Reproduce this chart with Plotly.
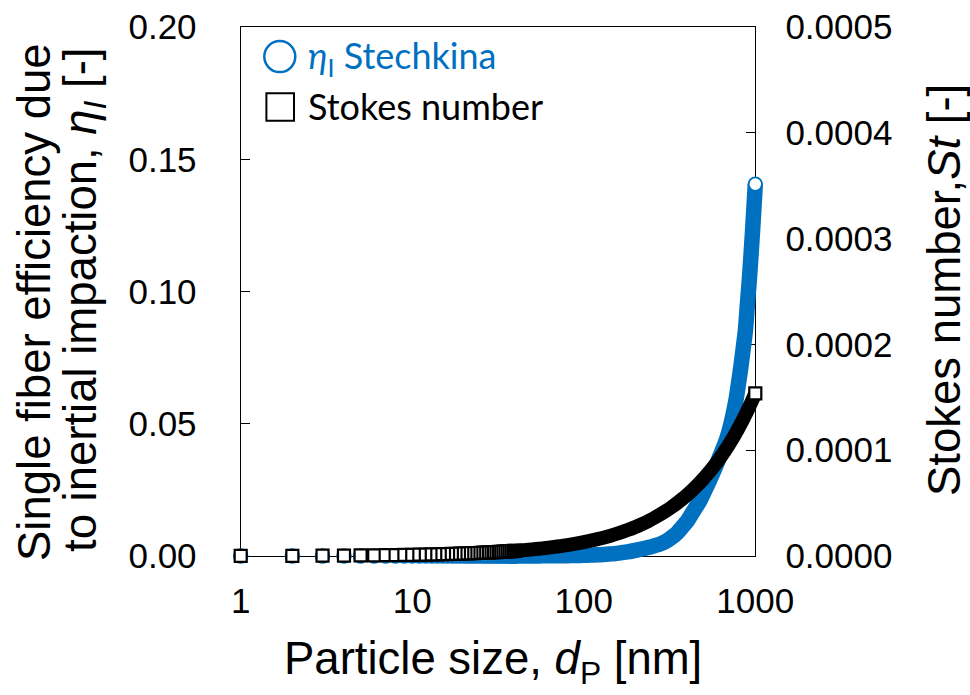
import plotly.graph_objects as go

# ---------------------------------------------------------------- data
particle_size_nm = [
    1, 2, 3, 4, 5, 6, 7, 8, 9, 10,
    11, 12, 13, 14, 15, 16, 17, 18, 19, 20,
    21, 22, 23, 24, 25, 26, 27, 28, 29, 30,
    31, 32, 33, 34, 35, 36, 37, 38, 39, 40,
    42, 45, 50, 55, 60, 65, 70, 75, 80, 90,
    100, 110, 120, 130, 140, 150, 160, 180, 200, 220,
    240, 260, 280, 300, 325, 350, 375, 400, 425, 450,
    475, 500, 525, 550, 575, 600, 625, 650, 675, 700,
    725, 750, 775, 800, 825, 850, 875, 900, 925, 950,
    975, 1000,
]

# single fiber efficiency due to inertial impaction (Stechkina), left axis
eta_impaction = [
    2.6e-10, 2.1e-9, 7.1e-9, 1.7e-8, 3.3e-8, 5.7e-8, 9.0e-8, 1.3e-7, 1.9e-7, 2.6e-7,
    3.5e-7, 4.5e-7, 5.8e-7, 7.2e-7, 8.9e-7, 1.1e-6, 1.3e-6, 1.5e-6, 1.8e-6, 2.1e-6,
    2.4e-6, 2.8e-6, 3.2e-6, 3.6e-6, 4.1e-6, 4.6e-6, 5.2e-6, 5.8e-6, 6.4e-6, 7.1e-6,
    7.8e-6, 8.6e-6, 9.4e-6, 1.03e-5, 1.13e-5, 1.22e-5, 1.33e-5, 1.44e-5, 1.56e-5, 1.68e-5,
    1.94e-5, 2.39e-5, 3.28e-5, 4.37e-5, 5.67e-5, 7.21e-5, 9.00e-5, 1.11e-4, 1.34e-4, 1.91e-4,
    2.63e-4, 3.49e-4, 4.54e-4, 5.77e-4, 7.20e-4, 8.86e-4, 1.075e-3, 1.531e-3, 2.10e-3, 2.71e-3,
    3.29e-3, 3.94e-3, 4.58e-3, 5.49e-3, 6.98e-3, 8.73e-3, 1.098e-2, 1.310e-2, 1.580e-2, 1.842e-2,
    2.087e-2, 2.386e-2, 2.679e-2, 2.964e-2, 3.240e-2, 3.534e-2, 3.809e-2, 4.073e-2, 4.345e-2, 4.671e-2,
    5.051e-2, 5.486e-2, 5.971e-2, 6.570e-2, 7.176e-2, 7.841e-2, 8.507e-2, 9.539e-2, 0.10522, 0.11646,
    0.12824, 0.1406,
]

# Stokes number, right axis
stokes_number = [
    9.5e-8, 1.99e-7, 3.07e-7, 4.18e-7, 5.31e-7, 6.45e-7, 7.61e-7, 8.78e-7, 9.95e-7, 1.11e-6,
    1.23e-6, 1.35e-6, 1.48e-6, 1.60e-6, 1.72e-6, 1.84e-6, 1.97e-6, 2.09e-6, 2.21e-6, 2.34e-6,
    2.46e-6, 2.59e-6, 2.72e-6, 2.84e-6, 2.97e-6, 3.10e-6, 3.22e-6, 3.35e-6, 3.48e-6, 3.61e-6,
    3.74e-6, 3.87e-6, 4.00e-6, 4.13e-6, 4.26e-6, 4.39e-6, 4.52e-6, 4.65e-6, 4.78e-6, 4.91e-6,
    5.17e-6, 5.57e-6, 6.24e-6, 6.90e-6, 7.58e-6, 8.26e-6, 8.94e-6, 9.62e-6, 1.031e-5, 1.169e-5,
    1.309e-5, 1.450e-5, 1.591e-5, 1.733e-5, 1.877e-5, 2.020e-5, 2.165e-5, 2.455e-5, 2.748e-5, 3.043e-5,
    3.341e-5, 3.639e-5, 3.940e-5, 4.242e-5, 4.620e-5, 5.002e-5, 5.385e-5, 5.770e-5, 6.157e-5, 6.544e-5,
    6.934e-5, 7.327e-5, 7.720e-5, 8.114e-5, 8.508e-5, 8.904e-5, 9.302e-5, 9.700e-5, 1.0099e-4, 1.0500e-4,
    1.0902e-4, 1.1304e-4, 1.1708e-4, 1.2111e-4, 1.2517e-4, 1.2924e-4, 1.3331e-4, 1.3739e-4, 1.4150e-4, 1.4559e-4,
    1.4969e-4, 1.538e-4,
]

size_ticks = [1, 10, 100, 1000]
size_tick_labels = ["1", "10", "100", "1000"]
eta_ticks = [0.0, 0.05, 0.10, 0.15, 0.20]
eta_tick_labels = ["0.00", "0.05", "0.10", "0.15", "0.20"]
stokes_ticks = [0.0, 0.0001, 0.0002, 0.0003, 0.0004, 0.0005]
stokes_tick_labels = ["0.0000", "0.0001", "0.0002", "0.0003", "0.0004", "0.0005"]

# ---------------------------------------------------------------- styling
BLUE = "#0070C0"
BLACK = "#000000"
AXIS_FONT = "Liberation Sans"
LEGEND_FONT = "Lato"
TICK_SIZE = 35
TITLE_SIZE = 45.5

W, H = 970, 695
# outer drawing area (marks may spill past the frame) and the framed box, px
PL, PR, PT, PB = 215, 780, 10, 585
FL, FR, FT, FB = 240.7, 755.3, 27.0, 556.0
ETA_MAX, ST_MAX = 0.20, 0.0005
DECADES = 3.0


def px_x(px):
    return (px - PL) / (PR - PL)


def px_y(py):
    return (PB - py) / (PB - PT)


dec_px = (FR - FL) / DECADES
x2_range = [-(FL - PL) / dec_px, DECADES + (PR - FR) / dec_px]
eta_per_px = ETA_MAX / (FB - FT)
y3_range = [-(PB - FB) * eta_per_px, ETA_MAX + (FT - PT) * eta_per_px]
y4_range = [v * ST_MAX / ETA_MAX for v in y3_range]

# small sizes show individual markers; from BAND_FROM on they merge into a band
MARKED_UPTO = 40
BAND_FROM = 36
small = [i for i, d in enumerate(particle_size_nm) if d <= MARKED_UPTO]
band = [i for i, d in enumerate(particle_size_nm) if d >= BAND_FROM]
last = [len(particle_size_nm) - 1]


def pick(seq, idx):
    return [seq[i] for i in idx]


circle_marker = dict(symbol="circle", size=13.5, color="white",
                     line=dict(color=BLUE, width=1.9))
square_marker = dict(symbol="square", size=12, color="white",
                     line=dict(color=BLACK, width=2.2))

fig = go.Figure()

# empty traces so the framed axes (ticks, labels, box) are laid out
fig.add_trace(go.Scatter(x=[], y=[], xaxis="x", yaxis="y", showlegend=False,
                         hoverinfo="skip"))
fig.add_trace(go.Scatter(x=[], y=[], xaxis="x", yaxis="y2", showlegend=False,
                         hoverinfo="skip"))


def add(idx, values, yaxis, **kw):
    fig.add_trace(go.Scatter(
        x=pick(particle_size_nm, idx), y=pick(values, idx),
        xaxis="x2", yaxis=yaxis, showlegend=False, cliponaxis=False,
        hoverinfo="skip", **kw))


band_line = dict(shape="spline", smoothing=0.8)

# eta_I (Stechkina) series
add(small, eta_impaction, "y3", mode="markers", marker=circle_marker)
add(band, eta_impaction, "y3", mode="lines",
    line=dict(color=BLUE, width=15.5, **band_line))
add(last, eta_impaction, "y3", mode="markers", marker=circle_marker)
# Stokes number series (secondary axis, drawn on top)
add(small, stokes_number, "y4", mode="markers", marker=square_marker)
add(band, stokes_number, "y4", mode="lines",
    line=dict(color=BLACK, width=14, **band_line))
add(last, stokes_number, "y4", mode="markers", marker=square_marker)

tick_font = dict(family=AXIS_FONT, size=TICK_SIZE, color=BLACK)
frame = dict(showline=True, linecolor=BLACK, linewidth=1.2, showgrid=False,
             zeroline=False, automargin=False, fixedrange=True)

fig.update_layout(
    width=W, height=H,
    margin=dict(l=PL, r=W - PR, t=PT, b=H - PB, pad=0, autoexpand=False),
    paper_bgcolor="white", plot_bgcolor="rgba(0,0,0,0)",
    showlegend=False,
    xaxis=dict(type="log", range=[0, DECADES], domain=[px_x(FL), px_x(FR)],
               anchor="y", mirror=True, ticks="", tickvals=size_ticks,
               ticktext=size_tick_labels, tickfont=tick_font,
               ticklabelstandoff=14, **frame),
    yaxis=dict(range=[0, ETA_MAX], domain=[px_y(FB), px_y(FT)], anchor="x",
               ticks="inside", ticklen=9, tickwidth=1.2, tickcolor=BLACK,
               tickvals=eta_ticks, ticktext=eta_tick_labels, tickfont=tick_font,
               ticklabelstandoff=36, **frame),
    yaxis2=dict(range=[0, ST_MAX], overlaying="y", anchor="x", side="right",
                ticks="inside", ticklen=9, tickwidth=1.2, tickcolor=BLACK,
                tickvals=stokes_ticks, ticktext=stokes_tick_labels,
                tickfont=tick_font, ticklabelstandoff=22, **frame),
    xaxis2=dict(type="log", range=x2_range, domain=[0, 1], anchor="y3",
                visible=False, fixedrange=True),
    yaxis3=dict(range=y3_range, domain=[0, 1], anchor="x2", visible=False,
                fixedrange=True),
    yaxis4=dict(range=y4_range, overlaying="y3", anchor="x2", visible=False,
                fixedrange=True),
)

title_font = dict(family=AXIS_FONT, size=TITLE_SIZE, color=BLACK)


def note(text, x, y, font, angle=0, xanchor="center"):
    fig.add_annotation(text=text, x=px_x(x), y=px_y(y), xref="paper",
                       yref="paper", showarrow=False, textangle=angle,
                       xanchor=xanchor, yanchor="middle", font=font)


note("Single fiber efficiency due", 34, 302, title_font, angle=-90)
note("to inertial impaction, <i>η<sub>I</sub></i> [-]", 84, 300, title_font, angle=-90)
note("Stokes number,<i>St</i> [-]", 944, 290, title_font, angle=-90)
note("Particle size, <i>d</i><sub>P</sub> [nm]", 493, 662, title_font)

# legend
legend_font_blue = dict(family=LEGEND_FONT, size=36, color=BLUE)
legend_font_black = dict(family=LEGEND_FONT, size=36, color=BLACK)
note("<i>η</i><sub>I</sub> Stechkina", 306, 57, legend_font_blue, xanchor="left")
note("Stokes number", 306, 106, legend_font_black, xanchor="left")

cx, cy, r = 279.8, 56.6, 15.5
fig.add_shape(type="circle", xref="paper", yref="paper",
              x0=px_x(cx - r), x1=px_x(cx + r), y0=px_y(cy + r), y1=px_y(cy - r),
              line=dict(color=BLUE, width=2.5), fillcolor="white")
sx, sy, h = 280.2, 107.0, 13.8
fig.add_shape(type="rect", xref="paper", yref="paper",
              x0=px_x(sx - h), x1=px_x(sx + h), y0=px_y(sy + h), y1=px_y(sy - h),
              line=dict(color=BLACK, width=2), fillcolor="white")

fig.write_html("out.html")
